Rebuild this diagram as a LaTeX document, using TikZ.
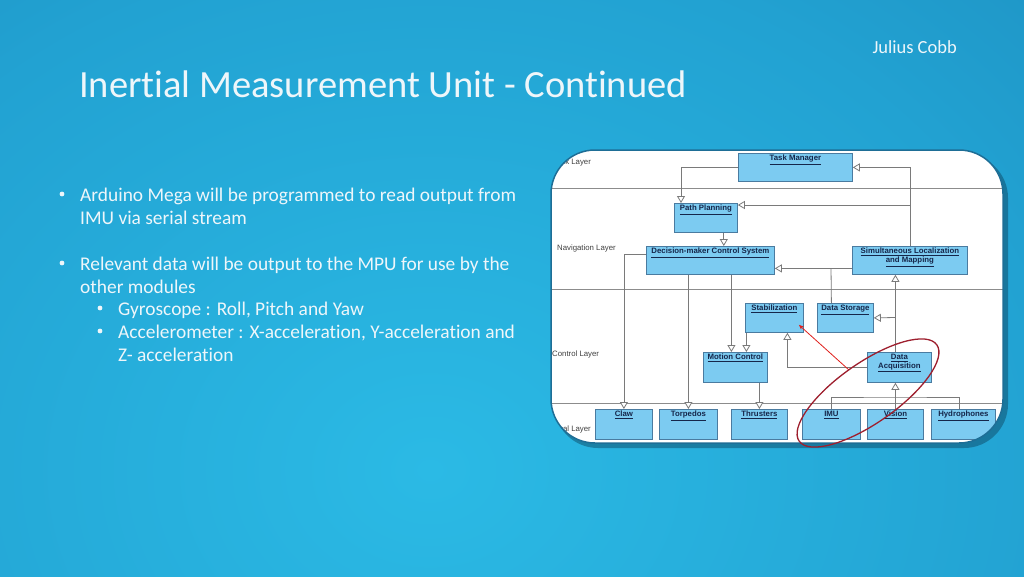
\documentclass[tikz,border=0pt]{standalone}
\usepackage{fontspec}
\setmainfont[Ligatures=NoCommon]{Carlito}
\newfontfamily\arialf{Liberation Sans}
\usetikzlibrary{arrows.meta,calc}
\definecolor{bgA}{HTML}{2BBAE5}
\definecolor{bgB}{HTML}{22A2D2}
\definecolor{bgC}{HTML}{1B89BA}
\definecolor{bgE}{HTML}{16709D}
\definecolor{bgD}{HTML}{115C83}
\definecolor{boxfill}{HTML}{7CCBF1}
\definecolor{boxline}{HTML}{4A7BA0}
\definecolor{boxtext}{HTML}{15264A}
\definecolor{connc}{HTML}{7A7A7A}
\definecolor{layerc}{HTML}{8C8C8C}
\definecolor{ovalc}{HTML}{9E1F2E}
\definecolor{redarr}{HTML}{E0201C}
\definecolor{slidetext}{HTML}{EEF6FA}
\definecolor{framec}{HTML}{1E6E96}
\pgfdeclareradialshading{slidebg}{\pgfpoint{0bp}{0bp}}{color(0bp)=(bgA); color(18bp)=(bgB); color(32bp)=(bgC); color(42bp)=(bgE); color(50bp)=(bgD)}
\tikzset{
  umlbox/.style={draw=boxline, fill=boxfill, line width=0.8pt, inner sep=0pt, anchor=north west},
  boxlbl/.style={anchor=north, yshift=-1.5pt, inner sep=0.5pt, align=center, text=boxtext,
    font=\arialf\bfseries\fontsize{7.8}{9}\selectfont},
  layerlbl/.style={inner sep=0pt, text=black!75, font=\arialf\fontsize{7.8}{9}\selectfont},
  conn/.style={draw=connc, line width=0.8pt},
  gen/.style={conn, -{Triangle[fill=white, length=7pt, width=8pt]}},
  layerline/.style={draw=layerc, line width=1pt},
  bodytext/.style={anchor=base west, inner sep=0pt, text=slidetext, font=\fontsize{19.4}{23}\selectfont},
  bulletdot/.style={circle, fill=slidetext, inner sep=0pt, minimum size=4.8pt},
}
\newcommand\umlnode[6]{\node[umlbox, minimum width=#4-#2, minimum height=#5-#3, label={[boxlbl]north:#6}] (#1) at (#2,#3) {};}
\begin{document}
\begin{tikzpicture}[x=1pt,y=-1pt]
\useasboundingbox (0,0) rectangle (1024,576);
\begin{scope}
  \clip (0,0) rectangle (1024,576);
  \shade[shading=slidebg] (430,470) ellipse [x radius=880, y radius=720];
\end{scope}
% title and author
\node[anchor=base west, inner sep=0pt, text=slidetext, font=\fontsize{38.5}{46}\selectfont] (title) at (79,97) {Inertial Measurement Unit - Continued};
\node[anchor=base east, inner sep=0pt, text=slidetext, font=\fontsize{18.5}{22}\selectfont] (author) at (957,53) {Julius Cobb};
% bullets
\node[bulletdot] (b1) at (62,194) {};
\node[bodytext] (t1) at (80,201) {Arduino Mega will be programmed to read output from};
\node[bodytext] (t2) at (80,224) {IMU via serial stream};
\node[bulletdot] (b2) at (62,263) {};
\node[bodytext] (t3) at (80,270) {Relevant data will be output to the MPU for use by the};
\node[bodytext] (t4) at (80,293) {other modules};
\node[bulletdot] (b3) at (100,308) {};
\node[bodytext] (t5) at (118,315) {Gyroscope : Roll, Pitch and Yaw};
\node[bulletdot] (b4) at (100,331) {};
\node[bodytext] (t6) at (118,338) {Accelerometer : X-acceleration, Y-acceleration and};
\node[bodytext] (t7) at (118,361) {Z- acceleration};
% panel
\fill[bgD!70!black, opacity=0.45, rounded corners=44pt] (554,154) rectangle (1008,448);
\fill[white, rounded corners=44pt] (551,150) rectangle (1003,443);
\begin{scope}
  \clip[rounded corners=44pt] (551,150) rectangle (1003,443);
  \draw[layerline] (551,188) -- (1003,188);
  \draw[layerline] (551,289) -- (1003,289);
  \draw[layerline] (551,403) -- (1003,403);
  \node[layerlbl, anchor=west] (ltask) at (553,162) {Task Layer};
  \node[layerlbl, anchor=west] (lnav) at (557,248) {Navigation Layer};
  \node[layerlbl, anchor=west] (lctl) at (552,354) {Control Layer};
  \node[layerlbl, anchor=east] (lphy) at (591,429) {Physical Layer};
  % boxes
  \umlnode{tm}{738}{153}{852}{181}{\underline{Task Manager}}
  \umlnode{pp}{674}{203}{737}{232}{\underline{Path Planning}}
  \umlnode{dcs}{646}{246}{774}{274}{\underline{Decision-maker Control System}}
  \umlnode{slam}{852}{246}{967}{274}{\underline{Simultaneous Localization}\\\underline{and Mapping}}
  \umlnode{stab}{745}{303}{803}{332}{\underline{Stabilization}}
  \umlnode{ds}{817}{303}{873}{332}{\underline{Data Storage}}
  \umlnode{mc}{703}{352}{767}{382}{\underline{Motion Control}}
  \umlnode{da}{867}{352}{931}{382}{\underline{Data}\\\underline{Acquisition}}
  \umlnode{claw}{595}{409}{652}{439}{\underline{Claw}}
  \umlnode{torp}{659}{409}{717}{439}{\underline{Torpedos}}
  \umlnode{thr}{731}{409}{787}{439}{\underline{Thrusters}}
  \umlnode{imu}{802}{409}{860}{439}{\underline{IMU}}
  \umlnode{vis}{867}{409}{923}{439}{\underline{Vision}}
  \umlnode{hyd}{931}{409}{995}{439}{\underline{Hydrophones}}
  % connectors
  \draw[gen] (tm.west) -| ([xshift=7pt]pp.north west);
  \draw[gen] (slam.north) |- (tm.east);
  \draw[gen] (slam.north) |- ([yshift=-2pt]pp.north east);
  \draw[gen] ([xshift=-14pt]pp.south east) -- ([xshift=-14pt]pp.south east |- dcs.north);
  \draw[gen] ([yshift=-8pt]slam.west) -- ([yshift=-8pt]slam.west -| dcs.east);
  \coordinate (j1) at (831,268);
  \draw[conn] ([xshift=-14pt]ds.north) -- (j1);
  \draw[gen] ([yshift=6pt]dcs.west) -| (claw.north);
  \draw[gen] (torp.north |- dcs.south) -- (torp.north);
  \draw[gen] ([xshift=-4pt]mc.north |- dcs.south) -- ([xshift=-4pt]mc.north);
  \draw[gen] ([xshift=11pt]mc.north |- stab.south) -- ([xshift=11pt]mc.north);
  \draw[gen] (thr.north |- mc.south) -- (thr.north);
  \draw[gen] (da.west) -| ([xshift=13pt]stab.south);
  \draw[gen] ([xshift=-4pt]da.north) -- ([xshift=-4pt]da.north |- slam.south);
  \coordinate (j2) at (895,317.5);
  \draw[gen] (j2) -- (ds.east);
  \coordinate (bus) at (895,397);
  \draw[conn] (imu.north) |- (bus) -| ([xshift=-4pt]hyd.north);
  \draw[gen] (vis.north) -- (vis.north |- da.south);
  \coordinate (rs) at (849,370);
  \draw[redarr, line width=0.8pt, -{Stealth[length=5pt, width=4pt]}] (rs) -- ([xshift=-5pt,yshift=8pt]stab.south east);
\end{scope}
\draw[framec, line width=1.5pt, rounded corners=44pt] (551,150) rectangle (1003,443);
\draw[ovalc, line width=1.3pt, shift={(868,393)}, rotate=35] (0,0) ellipse [x radius=84, y radius=30];
\end{tikzpicture}
\end{document}
